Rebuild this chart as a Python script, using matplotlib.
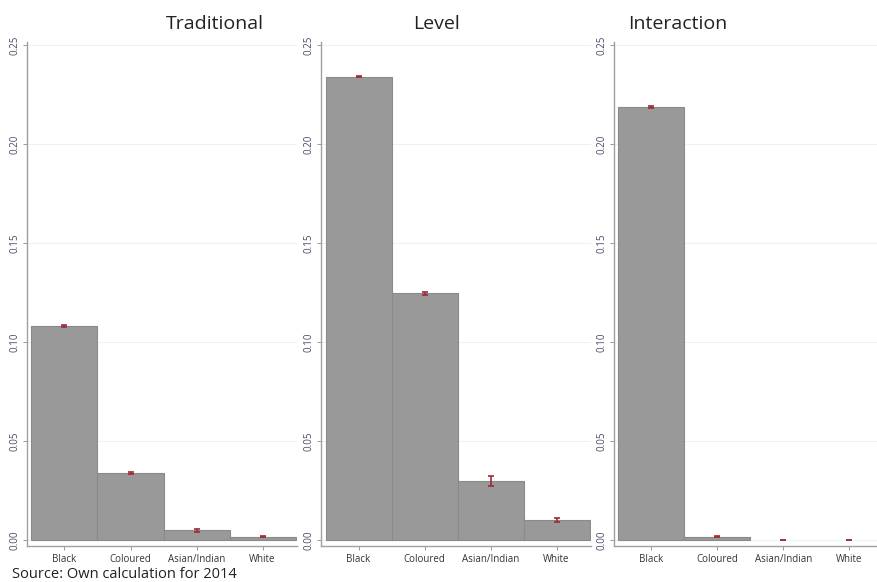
import matplotlib
matplotlib.use('Agg')
from matplotlib import pyplot as pl
import numpy

groups = ['Black', 'Coloured', 'Asian/Indian', 'White']
panels = ['Traditional', 'Level', 'Interaction']

traditional = [0.108, 0.034, 0.0050, 0.0017]
traditional_err = [0.0004, 0.0005, 0.0007, 0.0004]
level = [0.234, 0.1247, 0.0300, 0.0101]
level_err = [0.0004, 0.0008, 0.0025, 0.0008]
interaction = [0.2188, 0.0016, 0.0, 0.0]
interaction_err = [0.0004, 0.0002, 0.0002, 0.0002]

values = [traditional, level, interaction]
errors = [traditional_err, level_err, interaction_err]

pl.rcParams['font.family'] = ['Open Sans', 'DejaVu Sans']

fig = pl.figure(figsize=(8.78, 5.82), dpi=100)
W, H = 878., 582.

# pixel layout of each panel: (left spine x, right end x)
lefts = [27, 321, 614]
rights = [297, 591, 878]
title_x = [215, 437, 678]
ax_top = 42
ax_bot = 546
bar_px = 66.

bar_color = '#999999'
err_color = '#9e2a3a'
tick_color = '#4a4a66'

for i, name in enumerate(panels):
    ax = fig.add_axes([lefts[i]/W, 1 - ax_bot/H, (rights[i]-lefts[i])/W, (ax_bot-ax_top)/H])
    x = numpy.arange(len(groups))
    edges = ['#8a8a8a' if v > 0 else 'none' for v in values[i]]
    ax.bar(x, values[i], width=1.0, color=bar_color, edgecolor=edges, linewidth=0.8, zorder=2)
    ax.errorbar(x, values[i], yerr=errors[i], fmt='none', ecolor=err_color,
                elinewidth=1.2, capsize=2.5, capthick=1.2, zorder=3)
    lo = -0.5 - 4.5/bar_px
    ax.set_xlim(lo, lo + (rights[i]-lefts[i])/bar_px)
    ax.set_ylim(-0.003, 0.2515)
    ax.set_yticks([0, 0.05, 0.10, 0.15, 0.20, 0.25])
    ax.set_yticklabels(['0.00', '0.05', '0.10', '0.15', '0.20', '0.25'],
                       rotation=90, va='center', fontsize=7, color=tick_color)
    ax.set_xticks(x)
    ax.set_xticklabels(groups, fontsize=7, color='#333333')
    ax.tick_params(axis='y', length=3, width=0.6, color='#888888', pad=2)
    ax.tick_params(axis='x', length=3, width=0.6, color='#888888', pad=3)
    ax.yaxis.grid(True, color='#eaf2f2', linewidth=0.8, zorder=0)
    ax.set_axisbelow(True)
    for s in ['top', 'right']:
        ax.spines[s].set_visible(False)
    for s in ['left', 'bottom']:
        ax.spines[s].set_color('#a0a0a0')
        ax.spines[s].set_linewidth(1.0)
    fig.text(title_x[i]/W, 1 - 24/H, name, ha='center', va='center', fontsize=14, color='#222222')

fig.text(12/W, 1 - 575/H, 'Source: Own calculation for 2014', ha='left', va='center',
         fontsize=10.5, color='#222222')

pl.savefig('out.png', dpi=100)
